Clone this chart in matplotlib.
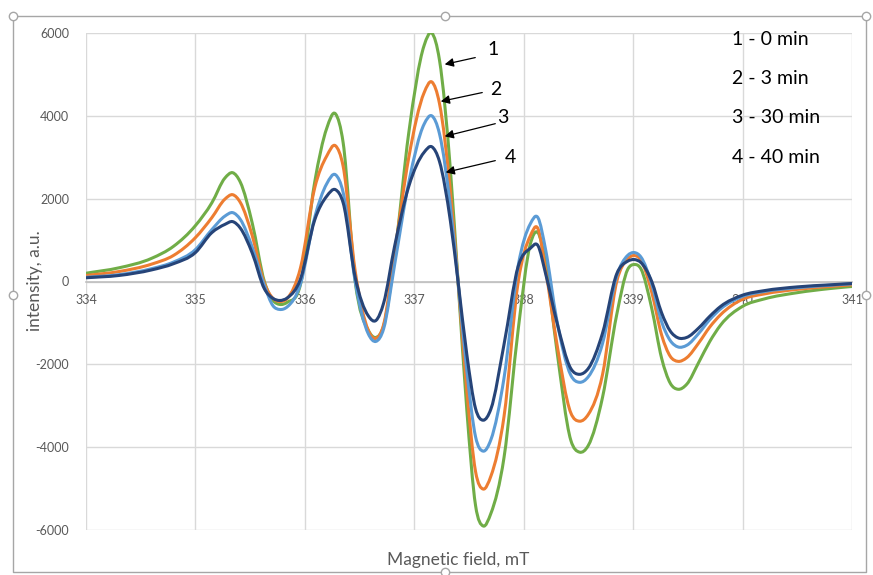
import matplotlib
matplotlib.use('Agg')
import matplotlib.pyplot as plt
from matplotlib.path import Path
from matplotlib.patches import PathPatch
from matplotlib.lines import Line2D

plt.rcParams['font.family'] = ['Lato', 'DejaVu Sans']
plt.rcParams['axes.unicode_minus'] = False

# magnetic field, mT
field = [334.0, 334.3, 334.6, 334.8, 335.0, 335.15, 335.27, 335.34, 335.41, 335.52,
         335.63, 335.71, 335.77, 335.84, 335.96, 336.09, 336.20, 336.28, 336.35, 336.46,
         336.58, 336.65, 336.72, 336.82, 336.95, 337.09, 337.16, 337.23, 337.33, 337.40,
         337.48, 337.56, 337.63, 337.70, 337.82, 337.95, 338.06, 338.13, 338.20, 338.30,
         338.43, 338.51, 338.59, 338.72, 338.85, 338.95, 339.01, 339.07, 339.17, 339.26,
         339.34, 339.41, 339.49, 339.6, 339.7, 339.8, 340.0, 340.2, 340.5, 340.8, 341.0]

# intensity, a.u.
min0 = [200, 330, 560, 850, 1350, 1900, 2500, 2627, 2400, 1400,
        0, -460, -554, -500, -70, 2400, 3700, 4048, 3350, 0,
        -1180, -1350, -1070, 590, 3600, 5700, 6000, 5350, 2700, 0,
        -3100, -5410, -5904, -5600, -4250, -1150, 900, 1180, 450, -1600,
        -3830, -4120, -3960, -2800, -800, 290, 410, 310, -650, -1850,
        -2460, -2602, -2480, -1950, -1450, -1050, -600, -420, -270, -170, -120]
min3 = [145, 240, 420, 630, 1060, 1542, 1990, 2096, 1910, 1100,
        -40, -410, -482, -405, 330, 2260, 3030, 3277, 2780, 250,
        -1180, -1373, -1040, 700, 3000, 4560, 4819, 4300, 2170, 0,
        -2630, -4590, -5012, -4700, -3260, 0, 1100, 1277, 280, -1450,
        -3170, -3373, -3210, -2250, 0, 545, 627, 520, -260, -1290,
        -1810, -1928, -1840, -1480, -1100, -800, -430, -300, -190, -120, -80]
min30 = [100, 165, 310, 470, 771, 1253, 1580, 1663, 1500, 820,
         -100, -590, -675, -610, -60, 1550, 2360, 2578, 2150, 0,
         -1265, -1446, -1140, 400, 2400, 3800, 4000, 3570, 1800, 0,
         -2150, -3750, -4096, -3820, -2330, 390, 1390, 1542, 770, -900,
         -2260, -2434, -2300, -1500, 135, 630, 699, 595, -60, -970,
         -1430, -1580, -1540, -1250, -920, -660, -360, -240, -150, -90, -55]
min40 = [90, 145, 280, 430, 699, 1180, 1380, 1446, 1290, 680,
         -175, -410, -458, -395, 60, 1485, 2060, 2217, 1900, 100,
         -830, -940, -520, 850, 2300, 3120, 3253, 2900, 1460, 0,
         -1760, -3070, -3349, -3080, -1520, 370, 800, 867, 190, -950,
         -2100, -2241, -2100, -1250, 185, 490, 530, 460, 0, -755,
         -1200, -1360, -1350, -1120, -840, -600, -330, -220, -130, -80, -48]

series = [min0, min3, min30, min40]
colors = ['#70AD47', '#ED7D31', '#5B9BD5', '#264478']
legend_text = ['1 - 0 min', '2 - 3 min', '3 - 30 min', '4 - 40 min']
xticks = [334, 335, 336, 337, 338, 339, 340, 341]
yticks = [-6000, -4000, -2000, 0, 2000, 4000, 6000]


def smooth_path(xs, ys):
    # smoothed line through the points: cubic Hermite pieces drawn as bezier curves
    n = len(xs)
    h = [xs[i + 1] - xs[i] for i in range(n - 1)]
    s = [(ys[i + 1] - ys[i]) / h[i] for i in range(n - 1)]
    m = [s[0]] + [(s[k - 1] * h[k] + s[k] * h[k - 1]) / (h[k - 1] + h[k])
                  for k in range(1, n - 1)] + [s[-1]]
    verts = [(xs[0], ys[0])]
    codes = [Path.MOVETO]
    for i in range(n - 1):
        c1 = (xs[i] + h[i] / 3, ys[i] + m[i] * h[i] / 3)
        c2 = (xs[i + 1] - h[i] / 3, ys[i + 1] - m[i + 1] * h[i] / 3)
        verts += [c1, c2, (xs[i + 1], ys[i + 1])]
        codes += [Path.CURVE4] * 3
    return Path(verts, codes)


fig = plt.figure(figsize=(8.73, 5.75), dpi=100)
ax = fig.add_axes([86 / 873, 1 - 530 / 575, 766 / 873, 497 / 575])

for ys, c in zip(series, colors):
    ax.add_patch(PathPatch(smooth_path(field, ys), facecolor='none', edgecolor=c, lw=2.2,
                           capstyle='round', joinstyle='round', zorder=3))

ax.set_xlim(334, 341)
ax.set_ylim(-6000, 6000)
ax.set_xticks(xticks)
ax.set_yticks(yticks)
ax.grid(True, color='#D9D9D9', lw=1)
ax.set_axisbelow(True)
for s in ['top', 'right', 'left']:
    ax.spines[s].set_visible(False)
ax.spines['bottom'].set_position(('data', 0))
ax.spines['bottom'].set_color('#BFBFBF')
ax.spines['bottom'].set_linewidth(1.2)
ax.tick_params(axis='both', length=0, labelsize=9, labelcolor='#595959')
ax.tick_params(axis='x', pad=9)
ax.tick_params(axis='y', pad=12)

fig.text(35 / 873, 1 - 281 / 575, 'intensity, a.u.', rotation=90, ha='center', va='center',
         fontsize=12.5, color='#595959')
fig.text(458 / 873, 1 - 560 / 575, 'Magnetic field, mT', ha='center', va='center',
         fontsize=12.5, color='#595959')

# arrows pointing at the main peak
heads = [(337.253, 5228), (337.217, 4334), (337.253, 3489), (337.262, 2620)]
tails = [(337.582, 5421), (337.646, 4576), (337.765, 3827), (337.765, 2934)]
label_pos = [(337.719, 5590), (337.747, 4624), (337.811, 3948), (337.875, 3006)]
for k in range(4):
    ax.annotate('', xy=heads[k], xytext=tails[k],
                arrowprops=dict(arrowstyle='-|>', color='black', lw=0.9, mutation_scale=13))
    ax.text(label_pos[k][0], label_pos[k][1], str(k + 1), fontsize=14, ha='center', va='center')

legend_y = [5831, 4890, 3948, 3006]
for t, yy in zip(legend_text, legend_y):
    ax.text(339.903, yy, t, fontsize=14, ha='left', va='center')


# selection frame around the chart
def fx(px):
    return px / 873


def fy(py):
    return 1 - py / 575


frame_color = '#A6A6A6'
fig.add_artist(Line2D([fx(13), fx(866), fx(866), fx(13), fx(13)],
                      [fy(16), fy(16), fy(572), fy(572), fy(16)],
                      color=frame_color, lw=1, transform=fig.transFigure))
hx = [13, 445, 866, 13, 866, 445]
hy = [16, 16, 16, 295, 295, 572]
fig.add_artist(Line2D([fx(v) for v in hx], [fy(v) for v in hy], ls='none', marker='o',
                      markersize=6, markerfacecolor='white', markeredgecolor=frame_color,
                      transform=fig.transFigure))

fig.savefig('out.png', dpi=100)
